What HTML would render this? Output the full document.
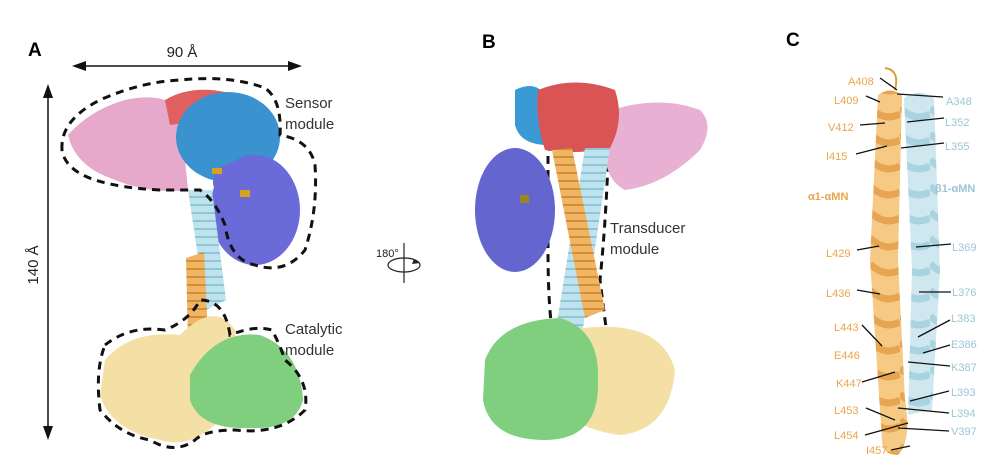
<!DOCTYPE html>
<html><head><meta charset="utf-8"><style>
html,body{margin:0;padding:0;background:#fff;width:1008px;height:473px;overflow:hidden}
svg{display:block;font-family:"Liberation Sans",Arial,sans-serif}
.o{fill:#e8a54b;font-size:11px}.b{fill:#9cc6d8;font-size:11px}
.l{stroke:#111;stroke-width:1.3}
</style></head><body>
<svg width="1008" height="473" viewBox="0 0 1008 473">
<defs>
<pattern id="hx" width="20" height="8" patternUnits="userSpaceOnUse"><rect width="20" height="8" fill="#bfe3ee"/><rect y="4" width="20" height="2" fill="#8fc6d6"/></pattern>
<pattern id="ho" width="20" height="8" patternUnits="userSpaceOnUse"><rect width="20" height="8" fill="#f0b465"/><rect y="4" width="20" height="2" fill="#d48f35"/></pattern>
<pattern id="cx" width="30" height="26" patternUnits="userSpaceOnUse"><rect width="30" height="26" fill="#cfe8f0"/><path d="M0,4 Q15,18 30,10" stroke="#a9d3e0" stroke-width="7" fill="none"/></pattern>
<pattern id="co" width="30" height="26" patternUnits="userSpaceOnUse"><rect width="30" height="26" fill="#f6c985"/><path d="M0,4 Q15,18 30,10" stroke="#e7a451" stroke-width="7" fill="none"/></pattern>
</defs>
<text x="28" y="56" font-size="19" font-weight="bold">A</text>
<text x="482" y="48" font-size="19" font-weight="bold">B</text>
<text x="786" y="46" font-size="19" font-weight="bold">C</text>

<line x1="80" y1="66" x2="294" y2="66" stroke="#111" stroke-width="1.5"/>
<polygon points="72,66 86,61 86,71" fill="#111"/><polygon points="302,66 288,61 288,71" fill="#111"/>
<text x="182" y="57" font-size="15" text-anchor="middle" fill="#222">90 Å</text>
<line x1="48" y1="92" x2="48" y2="430" stroke="#111" stroke-width="1.5"/>
<polygon points="48,84 43,98 53,98" fill="#111"/><polygon points="48,440 43,426 53,426" fill="#111"/>
<text transform="translate(38,265) rotate(-90)" font-size="15" text-anchor="middle" fill="#222">140 Å</text>

<path d="M68,135 Q90,110 125,100 Q160,92 180,108 L188,190 Q150,195 110,178 Q75,165 68,135Z" fill="#e6a9cc"/>
<path d="M165,100 Q190,85 225,92 L222,118 L170,125Z" fill="#e06060"/>
<ellipse cx="228" cy="137" rx="52" ry="45" fill="#3a92cf"/>
<ellipse cx="255" cy="210" rx="45" ry="55" fill="#6a6ad8"/>
<ellipse cx="238" cy="182" rx="25" ry="20" fill="#6a6ad8"/>
<rect x="212" y="168" width="10" height="6" fill="#d7a21e"/><rect x="240" y="190" width="10" height="7" fill="#d7a21e"/>
<path d="M188,190 L212,190 L226,300 L206,310Z" fill="url(#hx)"/>
<path d="M186,258 L204,252 L208,335 L188,340Z" fill="url(#ho)"/>
<path d="M105,360 Q130,330 180,335 Q215,300 235,330 Q240,380 220,420 Q190,450 160,440 Q110,430 100,395Z" fill="#f4e0a5"/>
<path d="M190,375 Q215,330 260,335 Q300,350 303,400 Q295,430 250,428 Q200,430 190,400Z" fill="#7fcf7f"/>
<g fill="none" stroke="#111" stroke-width="3" stroke-dasharray="8,6">
<path d="M62,150 Q60,120 100,100 Q140,82 180,80 Q230,75 265,88 Q282,100 280,135 Q310,140 315,165 Q318,210 305,250 Q285,275 255,265 Q230,260 225,225 Q215,200 200,190 Q180,190 160,190 Q120,188 95,180 Q65,170 62,150Z"/>
<path d="M105,345 Q130,325 165,330 Q190,320 200,300 Q225,300 230,335 Q255,325 272,330 Q280,345 285,360 Q310,380 305,410 Q280,435 235,430 Q205,430 195,440 Q175,455 150,440 Q120,435 100,410 Q95,370 105,345Z"/>
<path d="M548,150 Q560,142 580,145 Q603,148 608,160 Q606,220 600,280 Q605,320 607,335 Q600,348 575,348 Q555,346 552,330 Q548,300 548,250 Q548,180 548,150Z"/>
</g>
<text x="285" y="108" font-size="15" fill="#333">Sensor</text><text x="285" y="129" font-size="15" fill="#333">module</text>
<text x="285" y="334" font-size="15" fill="#333">Catalytic</text><text x="285" y="355" font-size="15" fill="#333">module</text>

<text x="376" y="257" font-size="11" fill="#222">180°</text>
<line x1="404" y1="243" x2="404" y2="283" stroke="#222" stroke-width="1.2"/>
<ellipse cx="404" cy="265" rx="16" ry="7" fill="none" stroke="#222" stroke-width="1.2"/>
<polygon points="414,259 420,263 412,264" fill="#222"/>

<path d="M612,110 Q660,95 700,110 Q715,125 700,150 Q665,185 625,190 Q605,180 605,150Z" fill="#e8b0d2"/>
<path d="M515,90 Q535,80 545,95 L548,145 Q520,145 515,125Z" fill="#3a9ad5"/>
<path d="M538,90 Q575,75 615,90 Q625,120 610,148 Q575,155 545,150 Q535,120 538,90Z" fill="#d95555"/>
<ellipse cx="515" cy="210" rx="40" ry="62" fill="#6565d0"/>
<rect x="520" y="195" width="9" height="8" fill="#9a8620"/>
<path d="M585,148 L610,148 L582,335 L555,335Z" fill="url(#hx)"/>
<path d="M552,150 L572,148 L605,310 L585,318Z" fill="url(#ho)"/>
<path d="M570,330 Q660,315 675,370 Q670,430 620,435 Q580,430 565,410Z" fill="#f4e0a5"/>
<path d="M485,360 Q500,320 560,318 Q600,330 598,380 Q600,440 545,440 Q490,440 483,400Z" fill="#7fcf7f"/>
<text x="610" y="233" font-size="15" fill="#333">Transducer</text><text x="610" y="254" font-size="15" fill="#333">module</text>

<path d="M878,95 Q890,86 902,95 L898,260 L905,400 Q912,440 898,455 Q882,455 882,440 L870,260 Z" fill="url(#co)"/>
<path d="M904,98 Q920,88 934,98 L940,270 L932,410 L908,415 L912,270 Z" fill="url(#cx)"/>
<path d="M885,68 Q900,70 895,90" fill="none" stroke="#d9a040" stroke-width="2"/>
<g class="l">
<line x1="880" y1="78" x2="897" y2="90"/><line x1="943" y1="97" x2="897" y2="94"/>
<line x1="866" y1="96" x2="880" y2="102"/>
<line x1="860" y1="125" x2="885" y2="123"/><line x1="944" y1="118" x2="907" y2="122"/>
<line x1="856" y1="154" x2="887" y2="146"/><line x1="944" y1="143" x2="901" y2="148"/>
<line x1="857" y1="250" x2="879" y2="246"/><line x1="951" y1="244" x2="916" y2="247"/>
<line x1="857" y1="290" x2="880" y2="294"/><line x1="951" y1="292" x2="919" y2="292"/>
<line x1="862" y1="325" x2="882" y2="346"/><line x1="950" y1="320" x2="918" y2="337"/>
<line x1="950" y1="345" x2="923" y2="353"/><line x1="950" y1="366" x2="908" y2="362"/>
<line x1="862" y1="382" x2="895" y2="372"/><line x1="949" y1="391" x2="910" y2="401"/>
<line x1="949" y1="413" x2="898" y2="408"/><line x1="866" y1="408" x2="895" y2="420"/>
<line x1="865" y1="435" x2="908" y2="423"/><line x1="949" y1="431" x2="898" y2="428"/>
<line x1="891" y1="450" x2="910" y2="446"/>
</g>
<text class="o" x="848" y="85">A408</text>
<text class="o" x="834" y="104">L409</text>
<text class="o" x="828" y="131">V412</text>
<text class="o" x="826" y="160">I415</text>
<text class="o" x="808" y="200" font-weight="bold">α1-αMN</text>
<text class="o" x="826" y="257">L429</text>
<text class="o" x="826" y="297">L436</text>
<text class="o" x="834" y="331">L443</text>
<text class="o" x="834" y="359">E446</text>
<text class="o" x="836" y="387">K447</text>
<text class="o" x="834" y="414">L453</text>
<text class="o" x="834" y="439">L454</text>
<text class="o" x="866" y="454">I457</text>
<text class="b" x="946" y="105">A348</text>
<text class="b" x="945" y="126">L352</text>
<text class="b" x="945" y="150">L355</text>
<text class="b" x="935" y="192" font-weight="bold">β1-αMN</text>
<text class="b" x="952" y="251">L369</text>
<text class="b" x="952" y="296">L376</text>
<text class="b" x="951" y="322">L383</text>
<text class="b" x="951" y="348">E386</text>
<text class="b" x="951" y="371">K387</text>
<text class="b" x="951" y="396">L393</text>
<text class="b" x="951" y="417">L394</text>
<text class="b" x="951" y="435">V397</text>
</svg>
</body></html>
